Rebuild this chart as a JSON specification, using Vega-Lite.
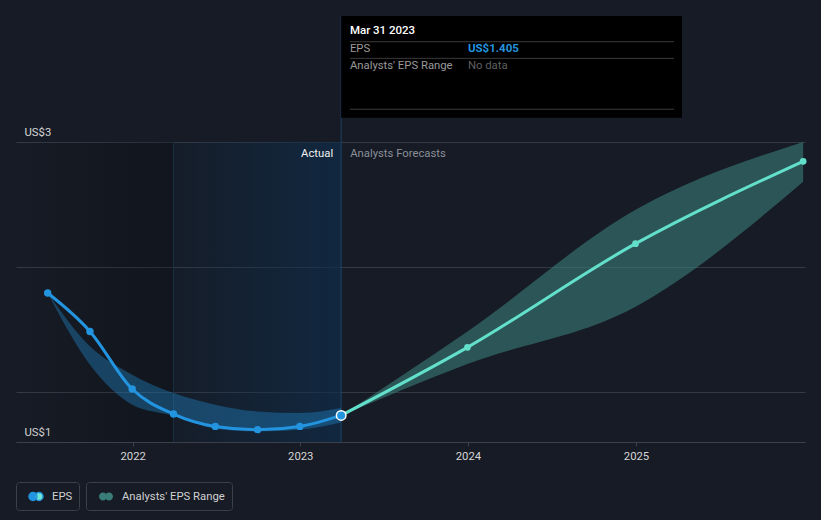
{
  "$schema": "https://vega.github.io/schema/vega-lite/v6.json",
  "width": 789,
  "height": 300,
  "autosize": {"type": "none"},
  "padding": {"left": 16, "top": 142, "right": 16, "bottom": 78},
  "background": "#161b25",
  "config": {"view": {"stroke": null}, "font": "Roboto", "text": {"font": "Roboto"}},
  "datasets": {
    "past": [
      {"date": "2021-06-30T00:00:00", "eps": 2.119},
      {"date": "2021-09-30T00:00:00", "eps": 1.895},
      {"date": "2021-12-31T00:00:00", "eps": 1.559},
      {"date": "2022-03-31T00:00:00", "eps": 1.413},
      {"date": "2022-06-30T00:00:00", "eps": 1.341},
      {"date": "2022-09-30T00:00:00", "eps": 1.322},
      {"date": "2022-12-31T00:00:00", "eps": 1.341},
      {"date": "2023-03-31T00:00:00", "eps": 1.405}
    ],
    "forecast": [
      {"date": "2023-03-31T00:00:00", "eps": 1.405},
      {"date": "2023-12-31T00:00:00", "eps": 1.802},
      {"date": "2024-12-31T00:00:00", "eps": 2.407},
      {"date": "2025-12-31T00:00:00", "eps": 2.887}
    ],
    "pastRange": [
      {"date": "2021-06-30T00:00:00", "low": 2.119, "high": 2.119},
      {"date": "2021-09-30T00:00:00", "low": 1.701, "high": 1.808},
      {"date": "2021-12-31T00:00:00", "low": 1.468, "high": 1.643},
      {"date": "2022-03-31T00:00:00", "low": 1.403, "high": 1.536},
      {"date": "2022-06-30T00:00:00", "low": 1.328, "high": 1.468},
      {"date": "2022-09-30T00:00:00", "low": 1.312, "high": 1.428},
      {"date": "2022-12-31T00:00:00", "low": 1.322, "high": 1.419},
      {"date": "2023-03-31T00:00:00", "low": 1.364, "high": 1.448}
    ],
    "range": [
      {"date": "2023-03-31T00:00:00", "low": 1.405, "high": 1.405},
      {"date": "2023-12-31T00:00:00", "low": 1.705, "high": 1.895},
      {"date": "2024-12-31T00:00:00", "low": 2.039, "high": 2.605},
      {"date": "2025-12-31T00:00:00", "low": 2.768, "high": 3.0}
    ]
  },
  "layer": [
    {
      "data": {"values": [{"start": "2021-04-22T00:00:00", "end": "2022-03-31T00:00:00"}]},
      "mark": {"type": "rect", "fill": {"gradient": "linear", "x1": 0, "x2": 1, "y1": 0, "y2": 0, "stops": [{"offset": 0, "color": "rgba(0,0,0,0)"}, {"offset": 1, "color": "rgba(0,0,0,0.22)"}]}},
      "encoding": {
        "x": {"field": "start", "type": "temporal", "title": null,
          "scale": {"domain": [{"year": 2021, "month": 4, "date": 22}, {"year": 2026, "month": 1, "date": 4}]},
          "axis": {"values": [{"year": 2022}, {"year": 2023}, {"year": 2024}, {"year": 2025}], "format": "%Y", "grid": false, "domain": true, "domainColor": "#3b404a", "ticks": true, "tickColor": "#3b404a", "tickSize": 4, "labelColor": "#d6d6d6", "labelFontSize": 11.3, "labelFont": "Roboto", "labelPadding": 4, "title": null}},
        "x2": {"field": "end"},
        "y": {"datum": 1.25, "type": "quantitative", "title": null,
          "scale": {"domain": [1.25, 3], "nice": false, "zero": false},
          "axis": {"values": [1.25, 1.5417, 2.2708, 3], "labelExpr": "datum.value > 2.9 || datum.value < 1.3 ? 'US$' + format(datum.value, '.0f') : ''", "grid": true, "gridColor": "#343a44", "domain": false, "ticks": false, "tickSize": 0, "labelAlign": "left", "labelBaseline": "alphabetic", "labelPadding": -8, "labelOffset": -7, "labelColor": "#d6d6d6", "labelFontSize": 11.3, "labelFont": "Roboto", "title": null}},
        "y2": {"datum": 3}
      }
    },
    {
      "data": {"values": [{"start": "2022-03-31T00:00:00", "end": "2023-03-31T00:00:00"}]},
      "mark": {"type": "rect", "fill": {"gradient": "linear", "x1": 0, "x2": 1, "y1": 0, "y2": 0, "stops": [{"offset": 0, "color": "rgba(15,45,75,0.1)"}, {"offset": 1, "color": "rgba(15,45,75,0.7)"}]}},
      "encoding": {
        "x": {"field": "start", "type": "temporal", "title": null},
        "x2": {"field": "end"},
        "y": {"datum": 1.25, "type": "quantitative", "title": null},
        "y2": {"datum": 3}
      }
    },
    {
      "data": {"values": [{"date": "2022-03-31T00:00:00", "lo": 1.25, "hi": 3.0}]},
      "mark": {"type": "rule", "color": "#1b2d40", "strokeWidth": 1},
      "encoding": {
        "x": {"field": "date", "type": "temporal", "title": null},
        "y": {"field": "lo", "type": "quantitative", "title": null},
        "y2": {"field": "hi"}
      }
    },
    {
      "data": {"values": [{"date": "2023-03-31T00:00:00", "lo": 1.25, "hi": 3.735}]},
      "mark": {"type": "rule", "color": "#1f4466", "strokeWidth": 1},
      "encoding": {
        "x": {"field": "date", "type": "temporal", "title": null},
        "y": {"field": "lo", "type": "quantitative", "title": null},
        "y2": {"field": "hi"}
      }
    },
    {
      "data": {"name": "pastRange"},
      "mark": {"type": "area", "interpolate": "monotone", "fill": "#2394df", "fillOpacity": 0.35},
      "encoding": {
        "x": {"field": "date", "type": "temporal", "title": null},
        "y": {"field": "high", "type": "quantitative", "title": null},
        "y2": {"field": "low"}
      }
    },
    {
      "data": {"name": "range"},
      "mark": {"type": "area", "interpolate": "monotone", "fillOpacity": 0.6},
      "encoding": {
        "x": {"field": "date", "type": "temporal", "title": null},
        "y": {"field": "high", "type": "quantitative", "title": null},
        "y2": {"field": "low"},
        "fill": {"datum": "Analysts' EPS Range", "scale": {"range": ["#3a7d78"]},
          "legend": {"orient": "none", "legendX": 70, "legendY": 340, "title": null, "padding": 6.5, "symbolOffset": 5.5, "labelOffset": 8, "strokeColor": "#3a3f48", "cornerRadius": 3, "labelColor": "#d0d0d0", "labelFontSize": 11.3, "labelFont": "Roboto",
            "symbolType": "M -1 0 A 0.57 0.57 0 1 0 0.14 0 A 0.57 0.57 0 1 0 -1 0 Z M -0.14 0 A 0.57 0.57 0 1 0 1 0 A 0.57 0.57 0 1 0 -0.14 0 Z", "symbolSize": 196,
            "encode": {"symbols": {"update": {"fill": {"value": {"gradient": "linear", "x1": 0, "y1": 0, "x2": 1, "y2": 0, "stops": [{"offset": 0, "color": "#1d5687"}, {"offset": 0.43, "color": "#1d5687"}, {"offset": 0.43, "color": "#3e807b"}, {"offset": 1, "color": "#3e807b"}]}}, "stroke": {"value": "transparent"}, "opacity": {"value": 1}, "fillOpacity": {"value": 1}}}}}}
      }
    },
    {
      "data": {"name": "past"},
      "mark": {"type": "line", "interpolate": "monotone", "strokeWidth": 3},
      "encoding": {
        "x": {"field": "date", "type": "temporal", "title": null},
        "y": {"field": "eps", "type": "quantitative", "title": null},
        "color": {"datum": "EPS", "scale": {"range": ["#2394df"]},
          "legend": {"orient": "none", "legendX": 0, "legendY": 340, "title": null, "padding": 6.5, "symbolOffset": 5.5, "labelOffset": 8, "strokeColor": "#3a3f48", "cornerRadius": 3, "labelColor": "#d0d0d0", "labelFontSize": 11.3, "labelFont": "Roboto",
            "symbolType": "M -1 0 A 0.57 0.57 0 1 0 0.14 0 A 0.57 0.57 0 1 0 -1 0 Z M -0.14 0 A 0.57 0.57 0 1 0 1 0 A 0.57 0.57 0 1 0 -0.14 0 Z", "symbolSize": 196,
            "encode": {"symbols": {"update": {"fill": {"value": {"gradient": "linear", "x1": 0, "y1": 0, "x2": 1, "y2": 0, "stops": [{"offset": 0, "color": "#2394df"}, {"offset": 0.43, "color": "#2394df"}, {"offset": 0.43, "color": "#6ee6d3"}, {"offset": 1, "color": "#6ee6d3"}]}}, "stroke": {"value": "transparent"}, "opacity": {"value": 1}, "fillOpacity": {"value": 1}}}}}}
      }
    },
    {
      "data": {"name": "forecast"},
      "mark": {"type": "line", "interpolate": "monotone", "strokeWidth": 3, "color": "#63e0cb"},
      "encoding": {
        "x": {"field": "date", "type": "temporal", "title": null},
        "y": {"field": "eps", "type": "quantitative", "title": null}
      }
    },
    {
      "data": {"name": "past"},
      "mark": {"type": "circle", "size": 55, "color": "#2394df", "opacity": 1},
      "encoding": {
        "x": {"field": "date", "type": "temporal", "title": null},
        "y": {"field": "eps", "type": "quantitative", "title": null}
      }
    },
    {
      "data": {"name": "forecast"},
      "transform": [{"filter": "datum.eps > 1.5"}],
      "mark": {"type": "circle", "size": 45, "color": "#63e0cb", "opacity": 1},
      "encoding": {
        "x": {"field": "date", "type": "temporal", "title": null},
        "y": {"field": "eps", "type": "quantitative", "title": null}
      }
    },
    {
      "data": {"name": "past"},
      "transform": [{"filter": "datum.eps === 1.405"}],
      "mark": {"type": "point", "filled": true, "size": 90, "fill": "#2394df", "stroke": "#ffffff", "strokeWidth": 1.5, "opacity": 1},
      "encoding": {
        "x": {"field": "date", "type": "temporal", "title": null},
        "y": {"field": "eps", "type": "quantitative", "title": null}
      }
    },
    {
      "data": {"values": [{"date": "2023-03-31T00:00:00", "value": 2.93, "text": "Actual"}]},
      "mark": {"type": "text", "align": "right", "baseline": "middle", "dx": -8, "fontSize": 11.3, "color": "#f0f0f0", "font": "Roboto"},
      "encoding": {
        "x": {"field": "date", "type": "temporal", "title": null},
        "y": {"field": "value", "type": "quantitative", "title": null},
        "text": {"field": "text"}
      }
    },
    {
      "data": {"values": [{"date": "2023-03-31T00:00:00", "value": 2.93, "text": "Analysts Forecasts"}]},
      "mark": {"type": "text", "align": "left", "baseline": "middle", "dx": 9, "fontSize": 11.3, "color": "#8a8f98", "font": "Roboto"},
      "encoding": {
        "x": {"field": "date", "type": "temporal", "title": null},
        "y": {"field": "value", "type": "quantitative", "title": null},
        "text": {"field": "text"}
      }
    },
    {
      "data": {"values": [{"start": "2023-03-31T00:00:00", "end": "2025-04-11T00:00:00", "top": 3.735, "bottom": 3.142}]},
      "mark": {"type": "rect", "fill": "#000000", "clip": false},
      "encoding": {
        "x": {"field": "start", "type": "temporal", "title": null},
        "x2": {"field": "end"},
        "y": {"field": "top", "type": "quantitative", "title": null},
        "y2": {"field": "bottom"}
      }
    },
    {
      "data": {"values": [
        {"start": "2023-04-19T00:00:00", "end": "2025-03-25T00:00:00", "value": 3.585},
        {"start": "2023-04-19T00:00:00", "end": "2025-03-25T00:00:00", "value": 3.488},
        {"start": "2023-04-19T00:00:00", "end": "2025-03-25T00:00:00", "value": 3.191}
      ]},
      "mark": {"type": "rule", "color": "#3a3a3a", "strokeWidth": 1},
      "encoding": {
        "x": {"field": "start", "type": "temporal", "title": null},
        "x2": {"field": "end"},
        "y": {"field": "value", "type": "quantitative", "title": null}
      }
    },
    {
      "data": {"values": [{"date": "2023-04-19T00:00:00", "value": 3.6475, "text": "Mar 31 2023"}]},
      "mark": {"type": "text", "align": "left", "baseline": "middle", "fontSize": 11.5, "fontWeight": 500, "color": "#ffffff", "font": "Roboto"},
      "encoding": {
        "x": {"field": "date", "type": "temporal", "title": null},
        "y": {"field": "value", "type": "quantitative", "title": null},
        "text": {"field": "text"}
      }
    },
    {
      "data": {"values": [
        {"date": "2023-04-19T00:00:00", "value": 3.5407, "text": "EPS"},
        {"date": "2023-04-19T00:00:00", "value": 3.4433, "text": "Analysts' EPS Range"}
      ]},
      "mark": {"type": "text", "align": "left", "baseline": "middle", "fontSize": 11.3, "color": "#9a9a9a", "font": "Roboto"},
      "encoding": {
        "x": {"field": "date", "type": "temporal", "title": null},
        "y": {"field": "value", "type": "quantitative", "title": null},
        "text": {"field": "text"}
      }
    },
    {
      "data": {"values": [{"date": "2024-01-01T00:00:00", "value": 3.5407, "text": "US$1.405"}]},
      "mark": {"type": "text", "align": "left", "baseline": "middle", "fontSize": 11.5, "fontWeight": "bold", "color": "#2394df", "font": "Roboto"},
      "encoding": {
        "x": {"field": "date", "type": "temporal", "title": null},
        "y": {"field": "value", "type": "quantitative", "title": null},
        "text": {"field": "text"}
      }
    },
    {
      "data": {"values": [{"date": "2024-01-01T00:00:00", "value": 3.4433, "text": "No data"}]},
      "mark": {"type": "text", "align": "left", "baseline": "middle", "fontSize": 11.3, "color": "#5f5f5f", "font": "Roboto"},
      "encoding": {
        "x": {"field": "date", "type": "temporal", "title": null},
        "y": {"field": "value", "type": "quantitative", "title": null},
        "text": {"field": "text"}
      }
    }
  ]
}
